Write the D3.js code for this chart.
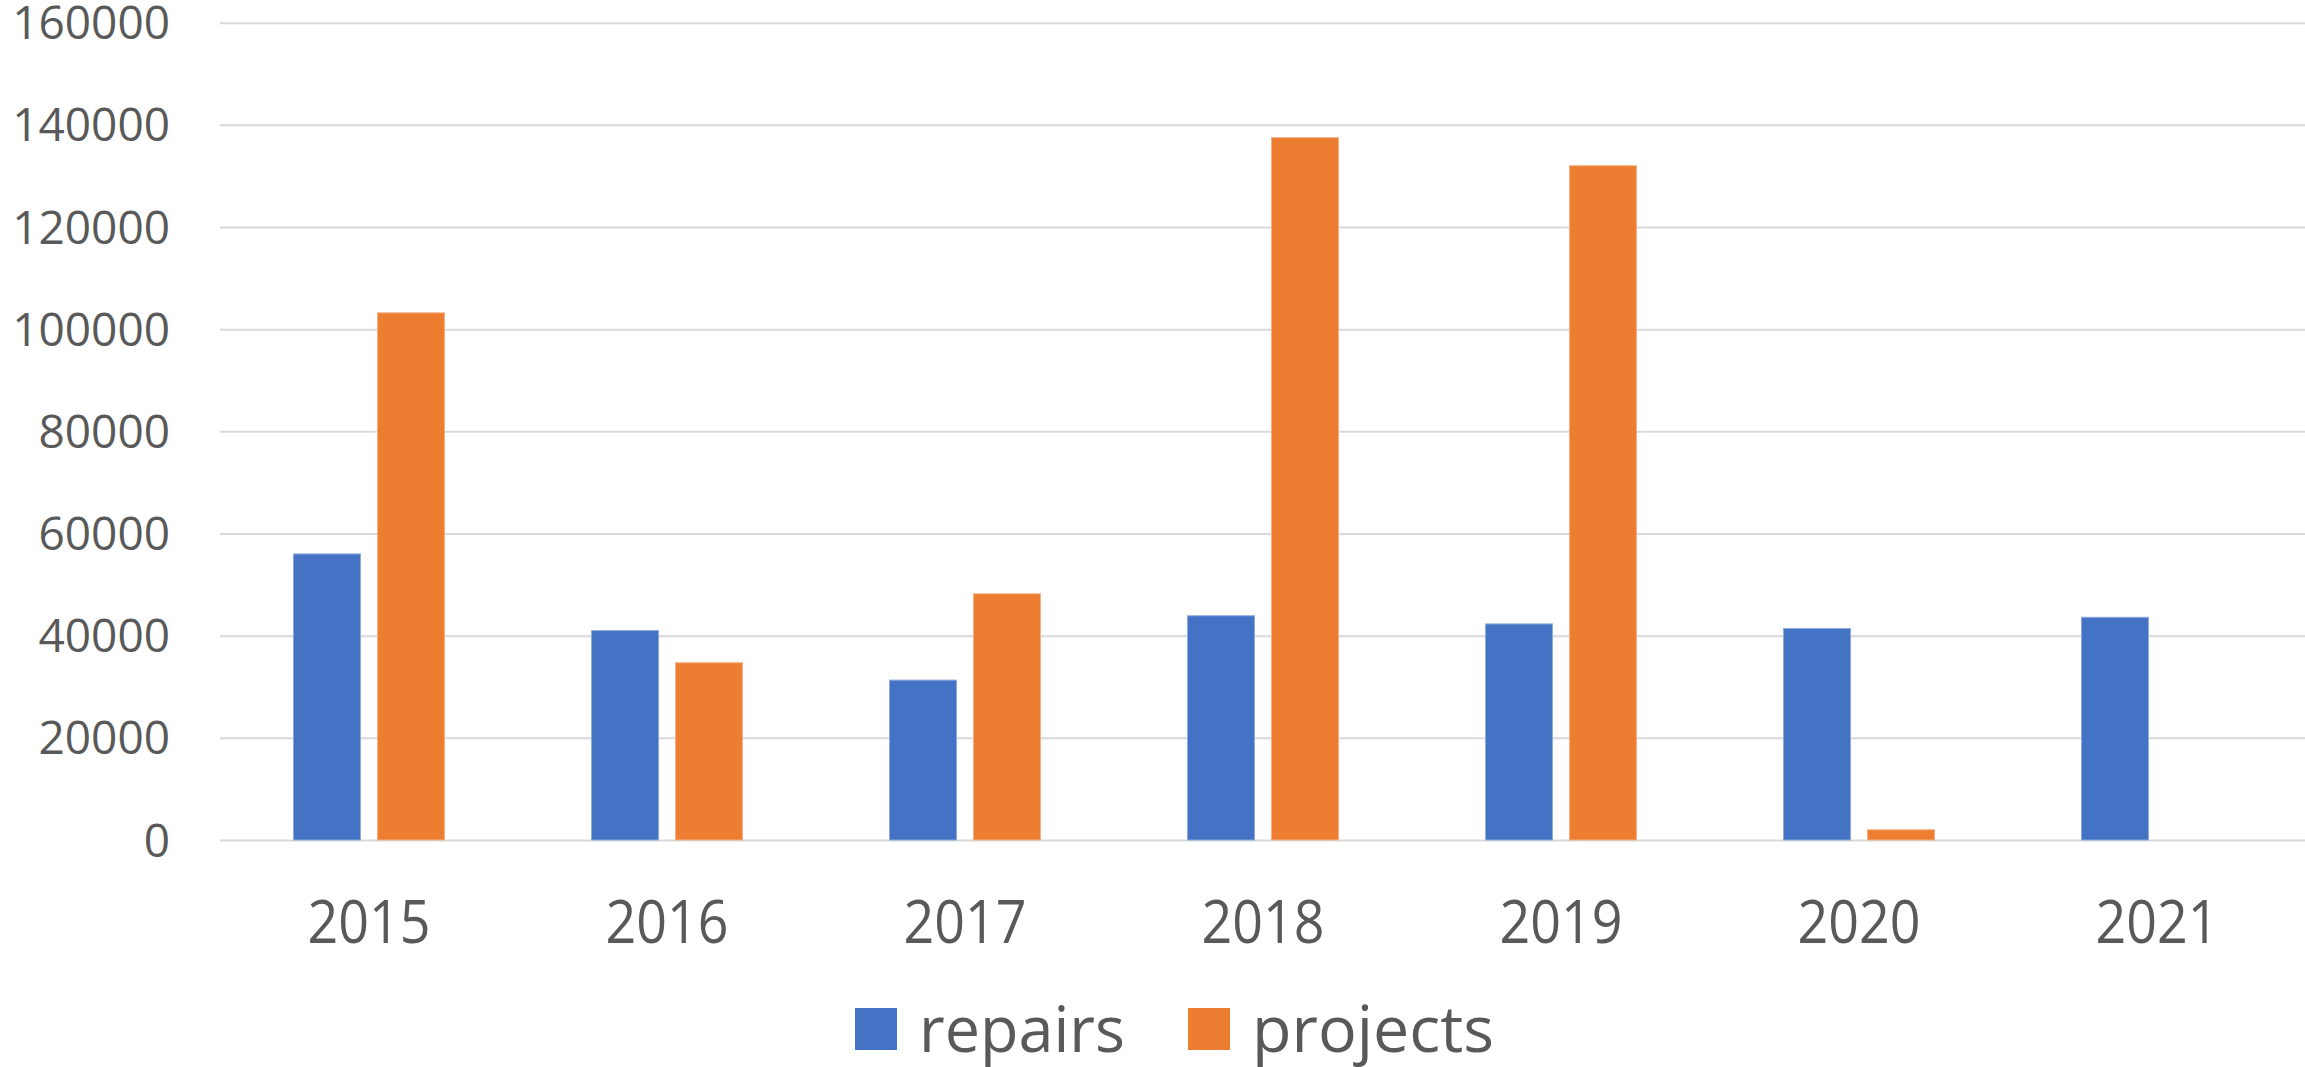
<!DOCTYPE html>
<html lang="en">
<head>
    <meta charset="UTF-8">
    <title>repairs vs projects</title>
    <script src="https://d3js.org/d3.v7.min.js"></script>
    <style>
        body {
            margin: 0;
            background: #fff;
            font-family: "Open Sans", sans-serif;
        }
    </style>
</head>
<body>
<main></main>
<script>

    // values
    var years = ['2015', '2016', '2017', '2018', '2019', '2020', '2021'];
    var repairs = [56000, 41000, 31300, 43900, 42300, 41400, 43600];
    var projects = [103200, 34700, 48200, 137500, 132000, 2000, null];
    var seriesNames = ['repairs', 'projects'];
    var yTicks = [0, 20000, 40000, 60000, 80000, 100000, 120000, 140000, 160000];

    var w = 2305, h = 1067;
    var m = {top: 22.7, left: 220, bottom: 227, right: -1};
    var colors = {repairs: '#4472C4', projects: '#ED7D31'};
    var textColor = '#595959';

    var rows = years.map(function(y, i){
        return {year: y, repairs: repairs[i], projects: projects[i]};
    });

    var svg = d3.select('main')
                .append('svg')
                .attr('width', w)
                .attr('height', h);

    var y = d3.scaleLinear()
              .domain([0, 160000])
              .range([h - m.bottom, m.top]);

    var x0 = d3.scaleBand()
               .domain(years)
               .range([m.left, w - m.right])
               .paddingInner(0.4933)
               .paddingOuter(0.2467);

    var x1 = d3.scaleBand()
               .domain(seriesNames)
               .range([0, x0.bandwidth()])
               .paddingInner(0.202);

    // gridlines
    svg.append('g')
        .attr('transform', 'translate(' + m.left + ',0)')
        .call(d3.axisLeft(y).tickValues(yTicks).tickSize(-(w - m.right - m.left)).tickFormat(''))
        .call(function(g){
            g.select('.domain').remove();
            g.selectAll('line').attr('stroke', '#D9D9D9').attr('stroke-width', 2);
        });

    // y labels
    svg.append('g')
        .selectAll('text')
        .data(yTicks)
        .enter()
        .append('text')
        .attr('x', 170)
        .attr('y', function(d){ return y(d) + 16.5; })
        .attr('text-anchor', 'end')
        .attr('font-size', '46px')
        .style('fill', textColor)
        .text(function(d){ return d; });

    // bars
    var groups = svg.append('g')
        .selectAll('g')
        .data(rows)
        .enter()
        .append('g')
        .attr('transform', function(d){ return 'translate(' + x0(d.year) + ',0)'; });

    groups.selectAll('rect')
        .data(function(d){
            return seriesNames.filter(function(k){ return d[k] != null; })
                .map(function(k){ return {key: k, value: d[k]}; });
        })
        .enter()
        .append('rect')
        .attr('x', function(d){ return x1(d.key); })
        .attr('y', function(d){ return y(d.value); })
        .attr('width', x1.bandwidth())
        .attr('height', function(d){ return y(0) - y(d.value); })
        .style('fill', function(d){ return colors[d.key]; })
        .style('stroke', function(d){ return d.key === 'repairs' ? '#8faadc' : '#f4b183'; })
        .style('stroke-width', 1);

    // x labels
    svg.append('g')
        .selectAll('text')
        .data(years)
        .enter()
        .append('text')
        .attr('x', function(d){ return x0(d) + x0.bandwidth() / 2; })
        .attr('y', 943)
        .attr('text-anchor', 'middle')
        .attr('font-size', '60px')
        .attr('textLength', 123)
        .attr('lengthAdjust', 'spacingAndGlyphs')
        .style('fill', textColor)
        .text(function(d){ return d; });

    // legend
    var legend = svg.append('g').attr('id', 'legend');
    var legendItems = [
        {key: 'repairs', rx: 855, tx: 919, tw: 206},
        {key: 'projects', rx: 1188, tx: 1252, tw: 242}
    ];
    legendItems.forEach(function(it){
        legend.append('rect')
            .attr('x', it.rx)
            .attr('y', 1008)
            .attr('width', 42)
            .attr('height', 42)
            .style('fill', colors[it.key]);
        legend.append('text')
            .attr('x', it.tx)
            .attr('y', 1052)
            .attr('font-size', '64px')
            .attr('textLength', it.tw)
            .attr('lengthAdjust', 'spacingAndGlyphs')
            .style('fill', textColor)
            .text(it.key);
    });

</script>
</body>
</html>
